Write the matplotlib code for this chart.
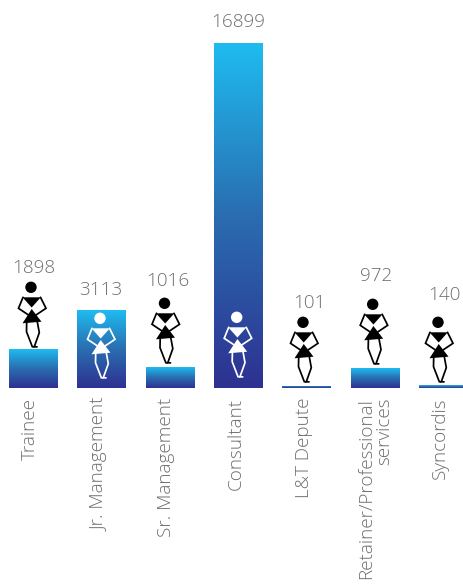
import numpy as np
import matplotlib
matplotlib.use("Agg")
import matplotlib.pyplot as plt
from matplotlib.colors import LinearSegmentedColormap
from matplotlib.patches import Circle, Polygon
from matplotlib.transforms import ScaledTranslation

categories = ["Trainee", "Jr. Management", "Sr. Management", "Consultant",
              "L&T Depute", "Retainer/Professional\nservices", "Syncordis"]
value_labels = [1898, 3113, 1016, 16899, 101, 972, 140]
# drawn height differs from the printed figure for Jr. Management in the original
bar_heights = [1898, 3820, 1016, 16899, 101, 972, 140]

W, H = 463, 586
BASE = 388
PITCH, X0 = 68.3, 33.5
PER_PX = 16899 / 345

value_dx = [0.5, -0.5, -2, 0, 3, 1.5, 1]
value_dy = [81, 20, 86, 21, 83, 92, 90]
label_dx = [-4, -2, -4, -3, -3, 0, -3]
fig_x = [31, 100, 164.5, 236.7, 303, 372.7, 438]
fig_foot = [347, 378, 363, 377, 382, 364, 382]
fig_col = ["black", "white", "black", "white", "black", "black", "black"]

TXT = "#6d6e71"
FONT = "Open Sans"

fig = plt.figure(figsize=(W / 100, H / 100), dpi=100)
ax = fig.add_axes([0, 1 - BASE / H, 1, BASE / H])
cmap = LinearSegmentedColormap.from_list("g", ["#2e3191", "#2a6db0", "#1ebcf0"])
xlim = (-X0 / PITCH, (W - X0) / PITCH)
ylim = (0, BASE * PER_PX)

bars = ax.bar(range(len(categories)), bar_heights, width=49 / PITCH, color="none")
grad = np.linspace(1, 0, 256).reshape(-1, 1)
for b in bars:
    x, w, h = b.get_x(), b.get_width(), b.get_height()
    im = ax.imshow(grad, extent=(x, x + w, 0, h), aspect="auto", cmap=cmap,
                   vmin=0, vmax=1, zorder=2, interpolation="bilinear")
    im.set_clip_path(b)

ax.set_xlim(*xlim)
ax.set_ylim(*ylim)
ax.set_yticks([])
for s in ax.spines.values():
    s.set_visible(False)

for i, (lab, h) in enumerate(zip(value_labels, bar_heights)):
    ax.annotate(str(lab), xy=(i, h), xytext=(value_dx[i] * .72, value_dy[i] * .72),
                textcoords="offset points", ha="center", va="center",
                fontsize=13.6, color=TXT, family=FONT, fontweight="light",
                annotation_clip=False)

ax.set_xticks(range(len(categories)))
ax.set_xticklabels(categories, rotation=90, va="top", ha="center", ma="right",
                   fontsize=13.6, color=TXT, family=FONT, fontweight="light",
                   linespacing=1.05)
ax.tick_params(axis="x", length=0, pad=7)
for t, dx in zip(ax.get_xticklabels(), label_dx):
    t.set_transform(t.get_transform() + ScaledTranslation(dx / 100, 0, fig.dpi_scale_trans))

# decorative stick figures, drawn in a pixel-coordinate overlay
ov = fig.add_axes([0, 0, 1, 1], facecolor="none")
ov.set_xlim(0, W)
ov.set_ylim(H, 0)
ov.axis("off")


def person(cx, foot, col):
    ox, oy = cx, foot - 65
    P = lambda pts: [(ox + a, oy + b) for a, b in pts]
    ov.add_patch(Circle((ox, oy + 5.3), 5.7, fc=col, ec="none", zorder=5))
    ov.add_patch(Polygon(P([(-8.5, 15.3), (9.8, 15.3), (0.7, 25.5)]), fc=col, ec="none", zorder=5))
    ov.add_patch(Polygon(P([(0.7, 27), (-8.5, 41.3), (10.5, 39.7)]), fc=col, ec="none", zorder=5))
    paths = [
        [(-8, 15.3), (-12.5, 26.3), (-2.5, 33)],
        [(9.5, 15.3), (15, 26.3), (5, 33)],
        [(-4.3, 39.7), (-4.5, 49.7), (1.3, 64.7), (3, 64.9)],
        [(6.3, 39.7), (8.3, 50.7), (3.3, 64.7), (6, 64.9)],
    ]
    for p in paths:
        xs, ys = zip(*P(p))
        ov.plot(xs, ys, color=col, lw=1.25, solid_capstyle="round", solid_joinstyle="miter", zorder=5)


for cx, ft, c in zip(fig_x, fig_foot, fig_col):
    person(cx, ft, c)

fig.savefig("out.png", dpi=100)
